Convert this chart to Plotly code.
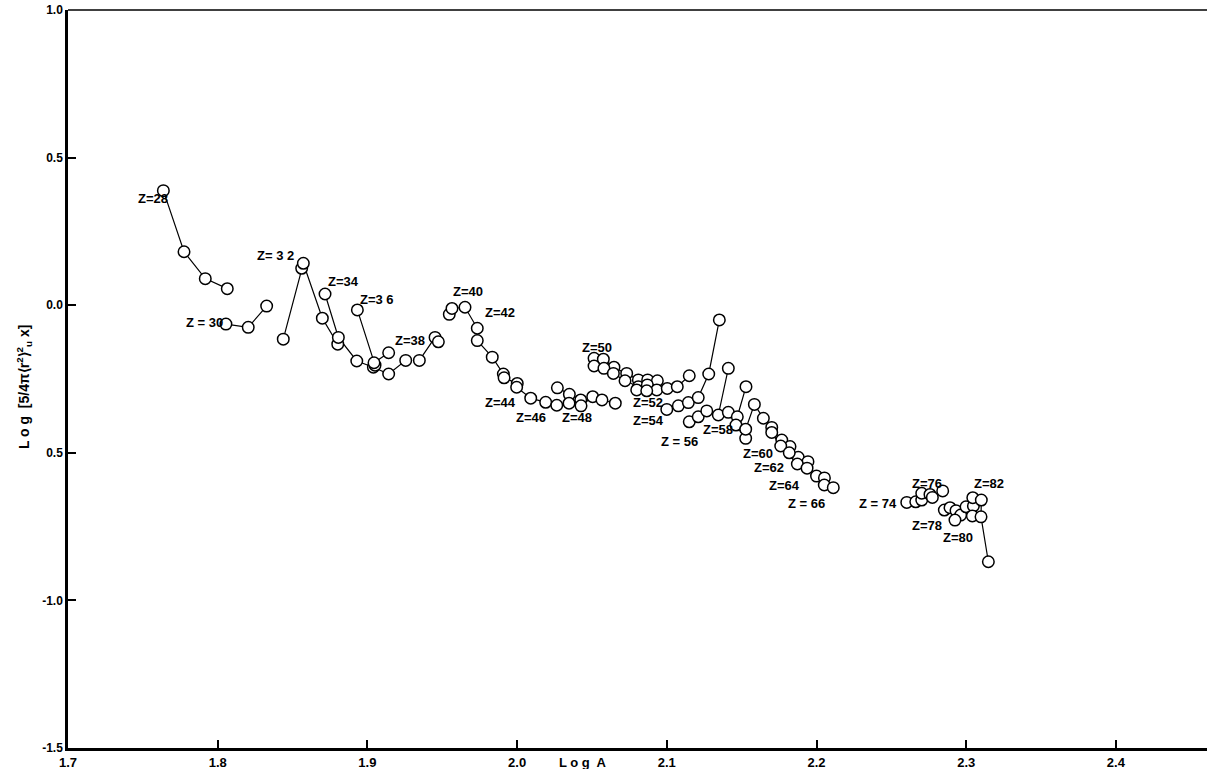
import plotly.graph_objects as go

# ---- data: log A (x) and log[5/4pi <r^2>^2_u x] (y) ----
z28_x = [1.7637, 1.7775, 1.7917, 1.8064]
z28_y = [0.388, 0.181, 0.090, 0.056]
z30_x = [1.8055, 1.8204, 1.8327]
z30_y = [-0.064, -0.075, -0.003]
z32_x = [1.8438, 1.8561, 1.8572, 1.8699, 1.8802]
z32_y = [-0.115, 0.125, 0.142, -0.044, -0.132]
z34_x = [1.8717, 1.8806, 1.8929, 1.9040, 1.9142, 1.9256]
z34_y = [0.038, -0.109, -0.189, -0.210, -0.233, -0.187]
z36_x = [1.8933, 1.9051, 1.9044, 1.9142]
z36_y = [-0.016, -0.203, -0.195, -0.161]
z38_x = [1.9347, 1.9452, 1.9474]
z38_y = [-0.187, -0.109, -0.124]
z40_x = [1.9547, 1.9565, 1.9652, 1.9734]
z40_y = [-0.031, -0.011, -0.007, -0.078]
z42_x = [1.9734, 1.9834, 1.9908, 1.9913, 2.0001]
z42_y = [-0.120, -0.176, -0.233, -0.246, -0.265]
z44_x = [1.9997, 2.0091, 2.0191, 2.0265]
z44_y = [-0.278, -0.315, -0.329, -0.339]
z46_x = [2.0269, 2.0349, 2.0425]
z46_y = [-0.280, -0.302, -0.321]
z48_x = [2.0347, 2.0427, 2.0505, 2.0567, 2.0656]
z48_y = [-0.332, -0.341, -0.310, -0.321, -0.332]
z50a_x = [2.0514, 2.0576, 2.0647, 2.0732, 2.0810, 2.0872, 2.0937]
z50a_y = [-0.180, -0.183, -0.210, -0.231, -0.253, -0.253, -0.256]
z50b_x = [2.0514, 2.0580, 2.0643, 2.0721, 2.0810, 2.0870, 2.0933]
z50b_y = [-0.206, -0.214, -0.231, -0.256, -0.276, -0.270, -0.287]
z52_x = [2.0799, 2.0866, 2.1003, 2.1070, 2.1150]
z52_y = [-0.287, -0.290, -0.282, -0.276, -0.239]
z54_x = [2.1000, 2.1077, 2.1144, 2.1210, 2.1280, 2.1351]
z54_y = [-0.353, -0.341, -0.330, -0.313, -0.233, -0.050]
z56_x = [2.1150, 2.1210, 2.1267, 2.1344, 2.1411]
z56_y = [-0.395, -0.378, -0.358, -0.372, -0.214]
z58_x = [2.1411, 2.1471, 2.1529]
z58_y = [-0.363, -0.378, -0.276]
z60_x = [2.1462, 2.1527, 2.1527, 2.1585, 2.1645, 2.1701, 2.1768, 2.1823, 2.1878, 2.1943]
z60_y = [-0.406, -0.451, -0.420, -0.336, -0.383, -0.414, -0.457, -0.479, -0.515, -0.530]
z62_x = [2.1701, 2.1761, 2.1818, 2.1872, 2.1937, 2.2000, 2.2053]
z62_y = [-0.431, -0.477, -0.500, -0.538, -0.552, -0.579, -0.585]
z64_x = [2.2052, 2.2112]
z64_y = [-0.609, -0.618]
z74_x = [2.2603, 2.2663, 2.2703]
z74_y = [-0.668, -0.666, -0.660]
z76_x = [2.2703, 2.2758, 2.2774, 2.2843]
z76_y = [-0.637, -0.641, -0.651, -0.629]
z78_x = [2.2854, 2.2892, 2.2932, 2.2963]
z78_y = [-0.694, -0.686, -0.696, -0.711]
z80_x = [2.2925, 2.2999, 2.3048, 2.3041]
z80_y = [-0.728, -0.683, -0.680, -0.714]
z82_x = [2.3044, 2.3101, 2.3099, 2.3148]
z82_y = [-0.652, -0.660, -0.717, -0.869]

# chain labels and their positions
label_text = ["Z=28", "Z = 30", "Z= 3 2", "Z=34", "Z=3 6", "Z=38", "Z=40", "Z=42",
              "Z=44", "Z=46", "Z=48", "Z=50", "Z=52", "Z=54", "Z = 56", "Z=58",
              "Z=60", "Z=62", "Z=64", "Z = 66", "Z = 74", "Z=76", "Z=78", "Z=80", "Z=82"]
label_x = [1.7568, 1.7915, 1.8383, 1.8837, 1.9064, 1.9285, 1.9672, 1.9886,
           1.9892, 2.0093, 2.0400, 2.0534, 2.0874, 2.0876, 2.1082, 2.1340,
           2.1611, 2.1685, 2.1783, 2.1930, 2.2413, 2.2740, 2.2736, 2.2947, 2.3154]
label_y = [0.360, -0.060, 0.170, 0.079, 0.018, -0.121, 0.045, -0.026,
           -0.331, -0.382, -0.382, -0.142, -0.331, -0.391, -0.462, -0.420,
           -0.504, -0.549, -0.612, -0.671, -0.671, -0.603, -0.745, -0.786, -0.603]

x_ticks = [1.7, 1.8, 1.9, 2.0, 2.1, 2.2, 2.3, 2.4]
x_ticktext = ["1.7", "1.8", "1.9", "2.0", "2.1", "2.2", "2.3", "2.4"]
y_ticks = [1.0, 0.5, 0.0, -0.5, -1.0, -1.5]
y_ticktext = ["1.0", "0.5", "0.0", "0.5", "-1.0", "-1.5"]

chains = [
    (z28_x, z28_y), (z30_x, z30_y), (z32_x, z32_y), (z34_x, z34_y), (z36_x, z36_y),
    (z38_x, z38_y), (z40_x, z40_y), (z42_x, z42_y), (z44_x, z44_y), (z46_x, z46_y),
    (z48_x, z48_y), (z50a_x, z50a_y), (z50b_x, z50b_y), (z52_x, z52_y), (z54_x, z54_y),
    (z56_x, z56_y), (z58_x, z58_y), (z60_x, z60_y), (z62_x, z62_y), (z64_x, z64_y),
    (z74_x, z74_y), (z76_x, z76_y), (z78_x, z78_y), (z80_x, z80_y), (z82_x, z82_y),
]

FONT = "Arial, Liberation Sans, sans-serif"

fig = go.Figure()
# connecting lines first
for xs, ys in chains:
    fig.add_trace(go.Scatter(x=xs, y=ys, mode="lines",
                             line=dict(color="black", width=1.2),
                             hoverinfo="skip", showlegend=False))
# open circles on top
for xs, ys in chains:
    fig.add_trace(go.Scatter(x=xs, y=ys, mode="markers",
                             marker=dict(symbol="circle", size=11.5, color="white",
                                         line=dict(color="black", width=1.5)),
                             showlegend=False))

for t, lx, ly in zip(label_text, label_x, label_y):
    fig.add_annotation(x=lx, y=ly, text=t, showarrow=False,
                       font=dict(family=FONT, size=13, color="black", weight="bold"))

# y axis title and x axis title
fig.add_annotation(xref="paper", yref="paper", x=-0.038, y=0.49,
                   xanchor="center", yanchor="middle",
                   text="L o g  [5/4π⟨r<sup>2</sup>⟩<sup>2</sup><sub>u</sub> x]",
                   textangle=-90, showarrow=False,
                   font=dict(family=FONT, size=14, color="black", weight="bold"))
fig.add_annotation(xref="paper", yref="paper", x=0.452, y=0, yshift=-14,
                   yanchor="middle",
                   text="L o g  A", showarrow=False,
                   font=dict(family=FONT, size=13, color="black", weight="bold"))

# top frame line
fig.add_shape(type="line", xref="paper", yref="paper", x0=0, x1=1, y0=1, y1=1,
              line=dict(color="black", width=1.5))

fig.update_xaxes(range=[1.7, 1.7 + 1139 / 1497], tickvals=x_ticks, ticktext=x_ticktext,
                 ticks="inside", ticklen=8, tickwidth=1.5, tickcolor="black",
                 showline=True, linecolor="black", linewidth=3, showgrid=False,
                 zeroline=False,
                 tickfont=dict(family=FONT, size=13, color="black", weight="bold"))
fig.update_yaxes(range=[-1.5, 1.0], tickvals=y_ticks, ticktext=y_ticktext,
                 ticks="inside", ticklen=8, tickwidth=1.5, tickcolor="black",
                 showline=True, linecolor="black", linewidth=2.5, showgrid=False,
                 zeroline=False,
                 tickfont=dict(family=FONT, size=12, color="black", weight="bold"))

fig.update_layout(width=1207, height=769, margin=dict(l=68, r=0, t=10, b=21),
                  plot_bgcolor="white", paper_bgcolor="white", showlegend=False)

fig.write_html("out.html", config={"displayModeBar": False},
               post_script="document.body.style.margin='0';document.body.style.overflow='hidden';")
